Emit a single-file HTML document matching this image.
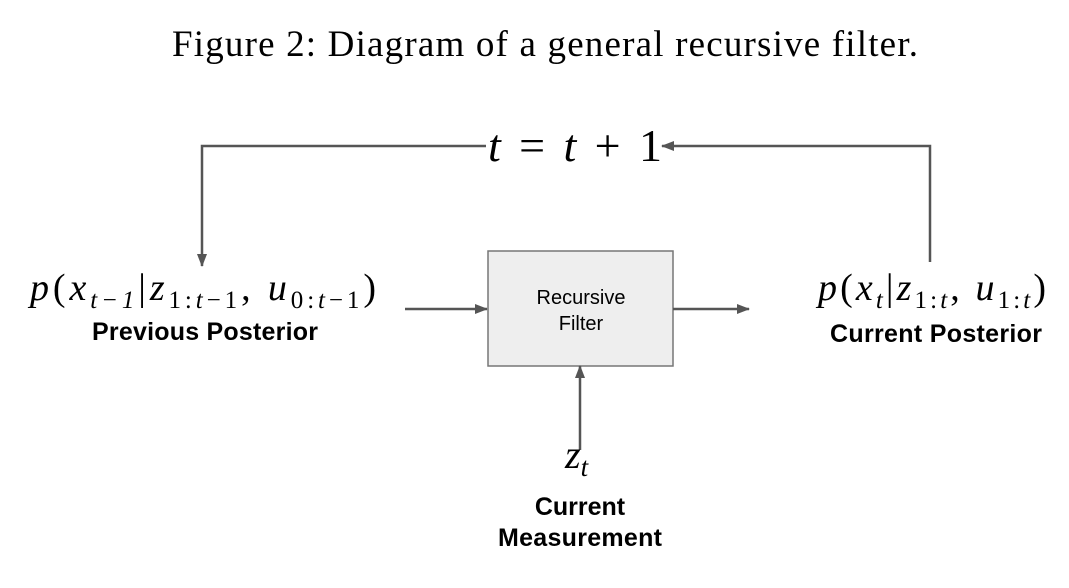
<!DOCTYPE html>
<html><head><meta charset="utf-8"><style>
body{margin:0;background:#fff;}
svg{display:block;}
.m{font-family:"Liberation Serif",serif;font-style:italic;fill:#000;}
.r{font-family:"Liberation Serif",serif;fill:#000;}
.b{font-family:"Liberation Sans",sans-serif;font-weight:bold;font-size:25px;fill:#000;}
</style></head><body>
<svg width="1069" height="588" viewBox="0 0 1069 588">
<defs><marker id="ah" markerWidth="13" markerHeight="10" refX="12" refY="5" orient="auto" markerUnits="userSpaceOnUse"><path d="M0,0 L13,5 L0,10 z" fill="#555"/></marker></defs>
<text class="r" x="172" y="56" font-size="37" textLength="746">Figure 2: Diagram of a general recursive filter.</text>
<g>
<polyline points="486,146 202,146 202,266" fill="none" stroke="#555" stroke-width="2.5" marker-end="url(#ah)"/>
<polyline points="930,262 930,146 662,146" fill="none" stroke="#555" stroke-width="2.5" marker-end="url(#ah)"/>
<text class="m" x="488" y="161" font-size="46" textLength="174">t <tspan font-style="normal">= </tspan>t<tspan font-style="normal"> + 1</tspan></text>
</g>
<text class="m" x="30" y="300" font-size="38" textLength="346">p<tspan font-style="normal">(</tspan>x<tspan font-size="25" dy="8">t−1</tspan><tspan dy="-8" font-style="normal">|</tspan>z<tspan font-size="25" dy="8" font-style="normal">1:<tspan font-style="italic">t</tspan>−1</tspan><tspan dy="-8" font-style="normal">, </tspan>u<tspan font-size="25" dy="8" font-style="normal">0:<tspan font-style="italic">t</tspan>−1</tspan><tspan dy="-8" font-style="normal">)</tspan></text>
<text class="b" x="205" y="340" text-anchor="middle" textLength="226">Previous Posterior</text>
<line x1="405" y1="309" x2="487" y2="309" stroke="#555" stroke-width="2.5" marker-end="url(#ah)"/>
<rect x="488" y="251" width="185" height="115" fill="#eeeeee" stroke="#777" stroke-width="1.5"/>
<text x="581" y="304" font-family="Liberation Sans,sans-serif" font-size="20" text-anchor="middle">Recursive</text>
<text x="581" y="330" font-family="Liberation Sans,sans-serif" font-size="20" text-anchor="middle">Filter</text>
<line x1="673" y1="309" x2="749" y2="309" stroke="#555" stroke-width="2.5" marker-end="url(#ah)"/>
<text class="m" x="818" y="300" font-size="38" textLength="228">p<tspan font-style="normal">(</tspan>x<tspan font-size="25" dy="8">t</tspan><tspan dy="-8" font-style="normal">|</tspan>z<tspan font-size="25" dy="8" font-style="normal">1:<tspan font-style="italic">t</tspan></tspan><tspan dy="-8" font-style="normal">, </tspan>u<tspan font-size="25" dy="8" font-style="normal">1:<tspan font-style="italic">t</tspan></tspan><tspan dy="-8" font-style="normal">)</tspan></text>
<text class="b" x="936" y="342" text-anchor="middle" textLength="212">Current Posterior</text>
<line x1="580" y1="450" x2="580" y2="366" stroke="#555" stroke-width="2.5" marker-end="url(#ah)"/>
<text class="m" x="565" y="468" font-size="40">z<tspan font-size="27" dy="8">t</tspan></text>
<text class="b" x="580" y="515" text-anchor="middle">Current</text>
<text class="b" x="580" y="546" text-anchor="middle" textLength="164">Measurement</text>
</svg>
</body></html>
